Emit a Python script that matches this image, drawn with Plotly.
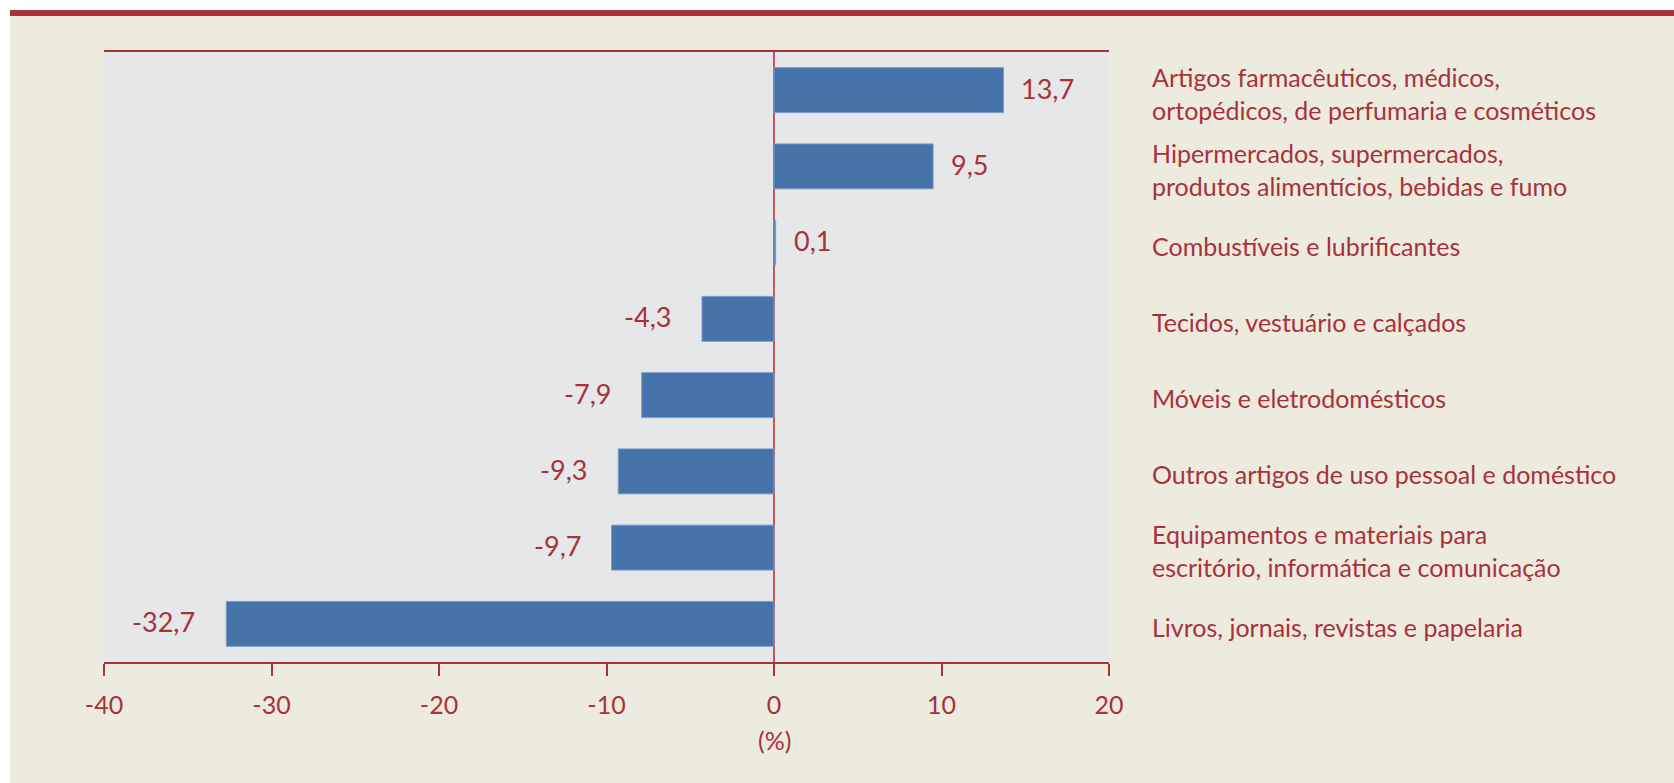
import plotly.graph_objects as go

categories = [
    "Artigos farmacêuticos, médicos,<br>ortopédicos, de perfumaria e cosméticos",
    "Hipermercados, supermercados,<br>produtos alimentícios, bebidas e fumo",
    "Combustíveis e lubrificantes",
    "Tecidos, vestuário e calçados",
    "Móveis e eletrodomésticos",
    "Outros artigos de uso pessoal e doméstico",
    "Equipamentos e materiais para<br>escritório, informática e comunicação",
    "Livros, jornais, revistas e papelaria",
]
values = [13.7, 9.5, 0.1, -4.3, -7.9, -9.3, -9.7, -32.7]
x_ticks = [-40, -30, -20, -10, 0, 10, 20]
x_title = "(%)"

RED = "#A9313C"
BEIGE = "#ECEBDE"
PLOTBG = "#E6E7E9"
BLUE = "#4674AA"
FONT = "Lato"

W, H = 1674, 783
L, R, T, B = 104, 1109, 52, 662


def px_x(p):
    return (p - L) / (R - L)


def px_y(p):
    return (B - p) / (B - T)


fig = go.Figure()
fig.add_trace(go.Bar(
    x=values,
    y=list(range(len(categories))),
    orientation="h",
    marker=dict(color=BLUE, line=dict(color="#7C9DC7", width=1)),
    width=0.59,
    hoverinfo="skip",
))

annotations = []
# value labels
for i, v in enumerate(values):
    annotations.append(dict(
        x=v, y=i, xref="x", yref="y",
        text=f"{v:.1f}".replace(".", ","),
        showarrow=False,
        xanchor="left" if v >= 0 else "right",
        xshift=16 if v >= 0 else -29,
        yshift=2,
        font=dict(family=FONT, size=27, color=RED),
    ))
# category labels (right side)
for i, c in enumerate(categories):
    annotations.append(dict(
        x=px_x(1150), y=i, xref="paper", yref="y",
        text=c, showarrow=False, xanchor="left", yanchor="middle", align="left",
        yshift=-3,
        font=dict(family=FONT, size=25, color=RED),
    ))
# axis unit label, centred under zero
annotations.append(dict(
    x=0, y=px_y(740), xref="x", yref="paper",
    text=x_title, showarrow=False, xanchor="center", yanchor="middle",
    font=dict(family=FONT, size=25, color=RED),
))

shapes = [
    # white strips at page top and left
    dict(type="rect", xref="paper", yref="paper", x0=px_x(0), x1=px_x(10),
         y0=px_y(H), y1=px_y(0), fillcolor="white", line=dict(width=0), layer="below"),
    dict(type="rect", xref="paper", yref="paper", x0=px_x(0), x1=px_x(W),
         y0=px_y(10), y1=px_y(0), fillcolor="white", line=dict(width=0), layer="below"),
    # red band
    dict(type="rect", xref="paper", yref="paper", x0=px_x(10), x1=px_x(W),
         y0=px_y(16), y1=px_y(10), fillcolor=RED, line=dict(width=0), layer="below"),
]

fig.update_layout(
    width=W, height=H,
    margin=dict(l=L, r=W - R, t=T, b=H - B, pad=0),
    paper_bgcolor=BEIGE,
    plot_bgcolor=PLOTBG,
    showlegend=False,
    annotations=annotations,
    shapes=shapes,
    font=dict(family=FONT, color=RED),
    xaxis=dict(
        range=[-40, 20],
        tickvals=x_ticks,
        ticktext=[str(t) for t in x_ticks],
        ticks="outside", ticklen=12, tickwidth=1.5, tickcolor=RED,
        showline=True, linecolor=RED, linewidth=1.5, mirror=True,
        zeroline=True, zerolinecolor="#C4545E", zerolinewidth=2,
        showgrid=False,
        tickfont=dict(family=FONT, size=25, color=RED),
        ticklabelstandoff=8,
        fixedrange=True,
    ),
    yaxis=dict(
        range=[len(categories) - 0.5, -0.5],
        showticklabels=False, showgrid=False, zeroline=False, showline=False,
        ticks="", fixedrange=True,
    ),
)

fig.write_html("out.html", config={"displayModeBar": False},
               post_script="document.body.style.margin='0';document.body.style.overflow='hidden';")
